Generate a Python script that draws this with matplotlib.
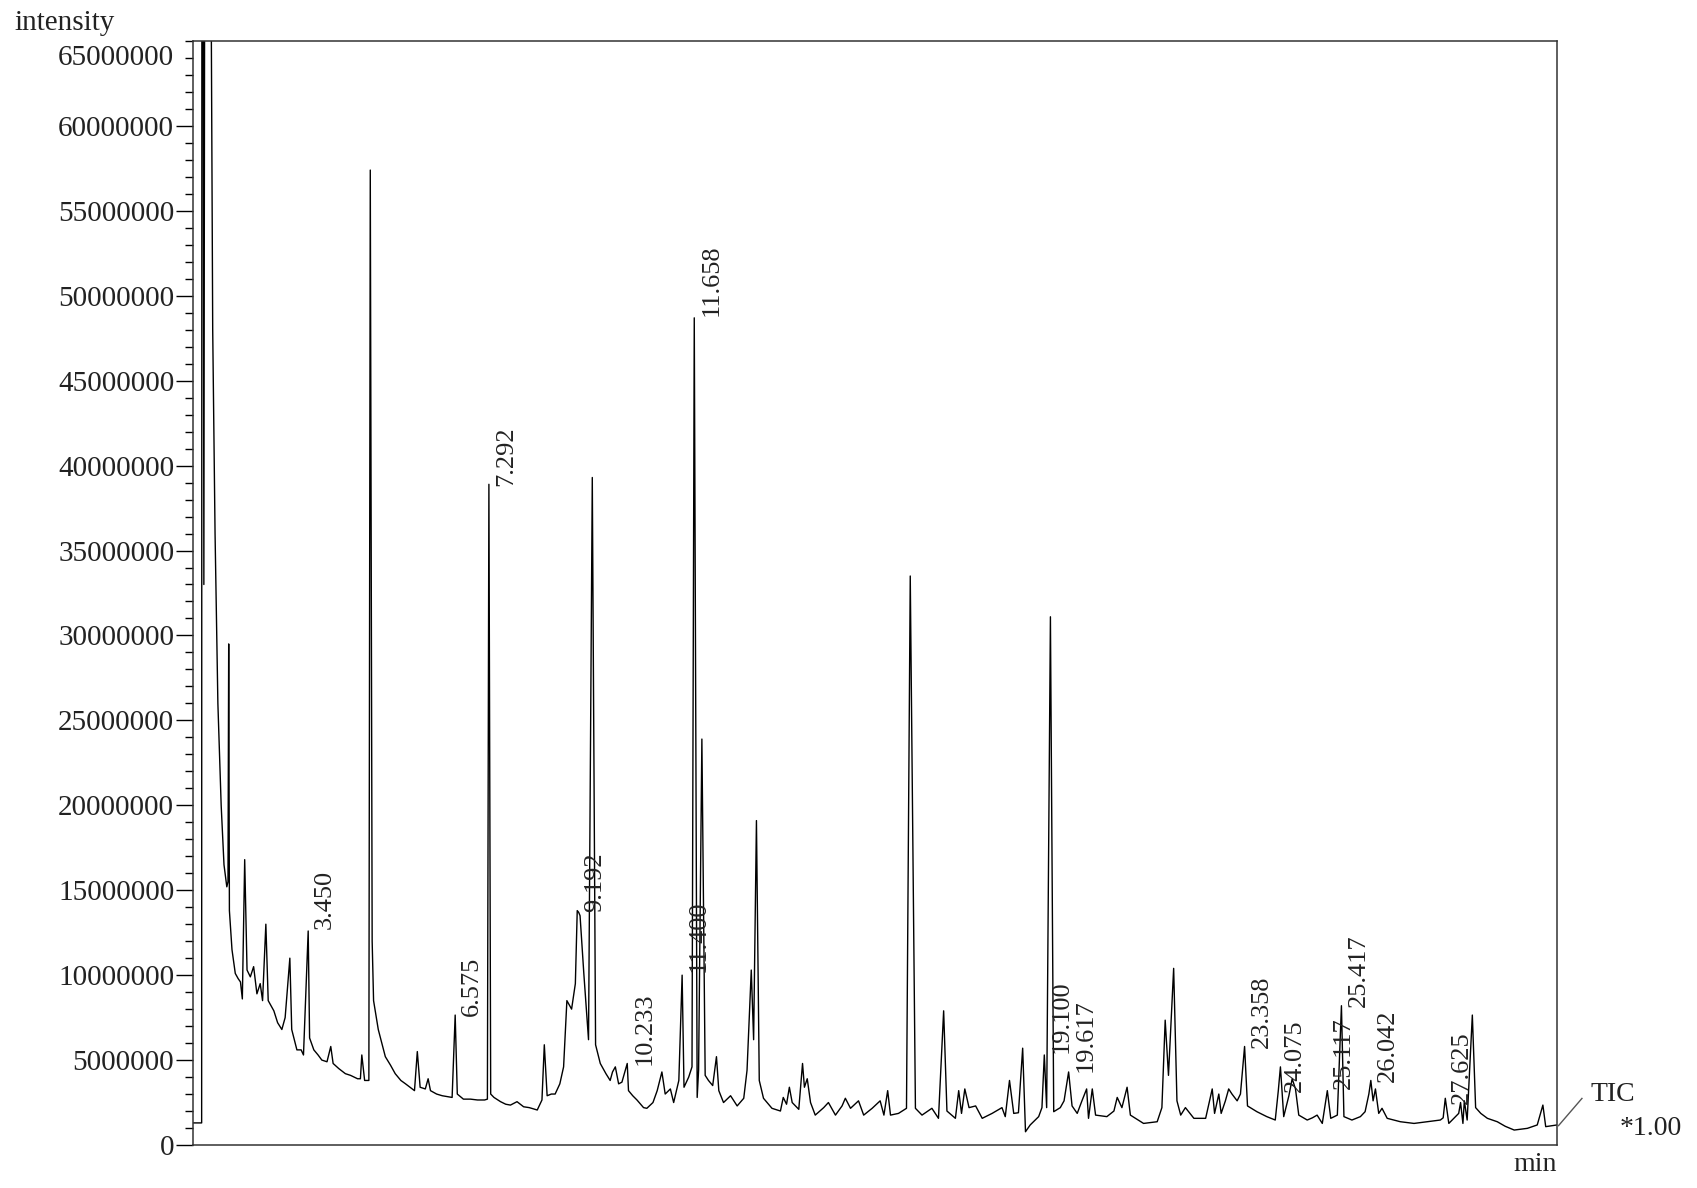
import matplotlib
matplotlib.use("Agg")
import matplotlib.pyplot as plt
from matplotlib.lines import Line2D
from matplotlib.ticker import MultipleLocator

plt.rcParams['font.family'] = ['Liberation Serif', 'DejaVu Serif']

## TIC trace, vertices (time in min, intensity in millions)
t_min = [
    1.00, 1.185, 1.19, 1.215, 1.232, 1.25, 1.38, 1.42, 1.47, 1.53, 1.60, 1.66, 1.72, 1.745, 1.76, 1.775,
    1.83, 1.90, 1.96, 2.01, 2.05, 2.10, 2.15, 2.22, 2.29, 2.36, 2.43, 2.48, 2.55, 2.60, 2.72, 2.80,
    2.89, 2.96, 3.06, 3.10, 3.21, 3.30, 3.35, 3.45, 3.48, 3.57, 3.66, 3.74, 3.85, 3.93, 3.98, 4.10,
    4.24, 4.35, 4.50, 4.56, 4.59, 4.65, 4.74, 4.77, 4.81, 4.84, 4.94, 5.09, 5.20, 5.30, 5.42, 5.52,
    5.71, 5.77, 5.83, 5.94, 6.00, 6.05, 6.18, 6.30, 6.51, 6.575, 6.62, 6.75, 6.90, 7.05, 7.20, 7.26,
    7.292, 7.33, 7.40, 7.54, 7.65, 7.75, 7.89, 8.03, 8.15, 8.32, 8.42, 8.47, 8.53, 8.62, 8.70, 8.80,
    8.88, 8.95, 9.05, 9.13, 9.17, 9.20, 9.23, 9.31, 9.41, 9.49, 9.56, 9.66, 9.78, 9.87, 9.92, 9.98,
    10.05, 10.12, 10.233, 10.26, 10.35, 10.44, 10.58, 10.65, 10.78, 10.87, 10.97, 11.04, 11.15, 11.22, 11.33, 11.40,
    11.44, 11.54, 11.61, 11.658, 11.72, 11.75, 11.82, 11.89, 11.96, 12.05, 12.13, 12.18, 12.28, 12.43, 12.57, 12.71,
    12.78, 12.87, 12.92, 12.98, 13.04, 13.13, 13.31, 13.49, 13.55, 13.62, 13.68, 13.74, 13.88, 13.96, 14.00, 14.06,
    14.13, 14.23, 14.33, 14.41, 14.51, 14.66, 14.80, 14.87, 14.98, 15.15, 15.26, 15.44, 15.61, 15.69, 15.77, 15.83,
    16.00, 16.17, 16.25, 16.36, 16.50, 16.71, 16.85, 16.96, 17.03, 17.21, 17.28, 17.34, 17.41, 17.50, 17.64, 17.78,
    17.99, 18.20, 18.27, 18.36, 18.45, 18.55, 18.64, 18.70, 18.80, 18.98, 19.05, 19.10, 19.15, 19.23, 19.30, 19.44,
    19.52, 19.617, 19.69, 19.80, 19.90, 20.00, 20.04, 20.12, 20.19, 20.43, 20.58, 20.65, 20.75, 20.86, 20.93, 21.21,
    21.50, 21.60, 21.67, 21.74, 21.85, 21.92, 22.00, 22.10, 22.28, 22.53, 22.67, 22.72, 22.81, 22.86, 22.95, 23.02,
    23.09, 23.20, 23.27, 23.358, 23.42, 23.62, 23.83, 24.01, 24.075, 24.12, 24.19, 24.30, 24.37, 24.44, 24.51, 24.69,
    24.80, 24.90, 25.01, 25.117, 25.19, 25.33, 25.417, 25.47, 25.64, 25.82, 25.92, 26.00, 26.042, 26.09, 26.14, 26.21,
    26.28, 26.39, 26.67, 26.96, 27.24, 27.52, 27.58, 27.625, 27.70, 27.91, 27.95, 28.00, 28.03, 28.09, 28.20, 28.27,
    28.38, 28.52, 28.73, 28.90, 29.09, 29.37, 29.58, 29.70, 29.76, 30.00,
]
tic_m = [
    1.3, 1.3, 72, 72, 33, 72, 72, 48, 36, 26, 20, 16.5, 15.2, 15.5, 29.5, 13.8,
    11.5, 10.1, 9.8, 9.6, 8.6, 16.8, 10.3, 9.9, 10.5, 8.9, 9.5, 8.5, 13.0, 8.5, 7.9, 7.2,
    6.8, 7.5, 11.0, 6.8, 5.6, 5.6, 5.3, 12.6, 6.3, 5.6, 5.3, 5.0, 4.9, 5.8, 4.8, 4.5,
    4.2, 4.1, 3.9, 3.9, 5.3, 3.8, 3.8, 57.4, 12.0, 8.5, 6.8, 5.2, 4.7, 4.2, 3.8, 3.6,
    3.2, 5.5, 3.4, 3.3, 3.9, 3.2, 3.0, 2.9, 2.8, 7.65, 3.0, 2.7, 2.7, 2.65, 2.65, 2.7,
    38.9, 3.0, 2.8, 2.55, 2.4, 2.35, 2.55, 2.25, 2.2, 2.06, 2.65, 5.9, 2.9, 3.0, 3.0, 3.6,
    4.6, 8.5, 8.0, 9.5, 13.8, 13.7, 13.5, 10.1, 6.2, 39.3, 5.9, 4.8, 4.2, 3.8, 4.3, 4.6,
    3.6, 3.7, 4.8, 3.2, 2.9, 2.65, 2.2, 2.16, 2.5, 3.2, 4.3, 3.0, 3.3, 2.5, 3.8, 10.0,
    3.4, 4.0, 4.6, 48.7, 2.8, 4.4, 23.9, 4.1, 3.8, 3.5, 5.2, 3.2, 2.5, 2.9, 2.3, 2.75,
    4.4, 10.3, 6.2, 19.1, 3.8, 2.75, 2.16, 2.0, 2.8, 2.4, 3.4, 2.5, 2.1, 4.8, 3.4, 3.9,
    2.5, 1.76, 2.0, 2.2, 2.5, 1.76, 2.3, 2.75, 2.16, 2.6, 1.76, 2.16, 2.6, 1.76, 3.2, 1.76,
    1.86, 2.16, 33.5, 2.16, 1.76, 2.16, 1.57, 7.9, 2.0, 1.57, 3.2, 1.86, 3.3, 2.2, 2.3, 1.57,
    1.86, 2.2, 1.67, 3.8, 1.86, 1.9, 5.7, 0.78, 1.18, 1.67, 2.2, 5.3, 2.2, 31.1, 1.96, 2.2,
    2.6, 4.3, 2.3, 1.86, 2.6, 3.3, 1.57, 3.3, 1.76, 1.67, 2.0, 2.8, 2.2, 3.4, 1.76, 1.27,
    1.37, 2.2, 7.35, 4.1, 10.4, 2.6, 1.76, 2.2, 1.57, 1.57, 3.3, 1.86, 3.0, 1.86, 2.6, 3.3,
    3.0, 2.6, 3.0, 5.8, 2.3, 1.96, 1.67, 1.47, 3.2, 4.6, 1.67, 2.9, 3.9, 3.3, 1.76, 1.47,
    1.6, 1.76, 1.27, 3.2, 1.57, 1.76, 8.2, 1.67, 1.47, 1.67, 1.96, 3.0, 3.8, 2.6, 3.3, 1.86,
    2.16, 1.57, 1.37, 1.27, 1.37, 1.47, 1.6, 2.75, 1.27, 1.86, 2.5, 1.27, 2.6, 1.47, 7.65, 2.2,
    1.86, 1.57, 1.37, 1.1, 0.88, 0.98, 1.18, 2.35, 1.08, 1.18,
]

## labelled peaks: retention time text and intensity (millions) where the label starts
peak_labels = ["3.450", "6.575", "7.292", "9.192", "10.233", "11.400", "11.658", "19.100",
               "19.617", "23.358", "24.075", "25.117", "25.417", "26.042", "27.625"]
peak_label_m = [12.7, 7.6, 38.8, 13.7, 4.7, 10.2, 48.8, 5.4,
                4.3, 5.7, 3.1, 3.3, 8.1, 3.7, 2.4]

ytick_vals = list(range(0, 60000001, 5000000))

fig = plt.figure(figsize=(16.97, 11.88), dpi=100)
ax = fig.add_axes([0.1137, 0.0362, 0.8038, 0.9293])

ax.plot(t_min, [v * 1e6 for v in tic_m], color='black', lw=1.0)

for lab, h in zip(peak_labels, peak_label_m):
    ax.annotate(lab, xy=(float(lab), h * 1e6), xytext=(17, 0), textcoords='offset pixels',
                rotation=90, ha='center', va='bottom', fontsize=19, color='#222222')

ax.set_xlim(1.0, 30.0)
ax.set_ylim(0, 65e6)
ax.set_xticks([])
ax.set_yticks(ytick_vals)
ax.set_yticklabels([str(v) for v in ytick_vals])
ax.yaxis.set_minor_locator(MultipleLocator(1000000))
ax.tick_params(axis='y', which='major', length=12.5, width=1.0, pad=1, labelsize=21, labelcolor='#222222')
ax.tick_params(axis='y', which='minor', length=5.5, width=1.0)
for sp in ax.spines.values():
    sp.set_linewidth(1.1)
    sp.set_color('#333333')

# top label sits beside the 64M minor tick in the original
ax.annotate("65000000", xy=(0, 64e6), xycoords=('axes fraction', 'data'), xytext=(-13.5, 0),
            textcoords='offset points', ha='right', va='center', fontsize=21, color='#222222')

fig.text(0.0088, 0.9747, "intensity", fontsize=21, ha='left', va='baseline', color='#222222')
fig.text(0.9175, 0.0194, "min", fontsize=20, ha='right', va='center', color='#222222')
fig.text(0.9375, 0.0791, "TIC", fontsize=20, ha='left', va='center', color='#222222')
fig.text(0.9546, 0.0497, "*1.00", fontsize=20, ha='left', va='center', color='#222222')
fig.add_artist(Line2D([0.9184, 0.9322], [0.0525, 0.0754], transform=fig.transFigure,
                      color='#555555', lw=1.0))

fig.savefig("out.png", dpi=100)
